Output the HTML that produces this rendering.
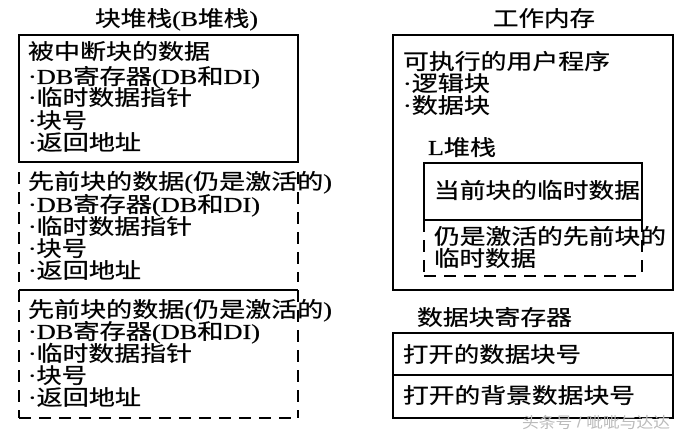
<!DOCTYPE html>
<html><head><meta charset="utf-8"><style>
html,body{margin:0;padding:0;background:#fff;}
svg{display:block;}
text{font-family:"Liberation Serif","Noto Sans CJK SC",serif;font-size:21px;fill:#000;stroke:#000;stroke-width:0.3px;dominant-baseline:central;}
</style></head><body>
<svg width="681" height="438" viewBox="0 0 681 438" xmlns="http://www.w3.org/2000/svg">
<g stroke="#000" stroke-width="2" fill="none">
<rect x="19" y="35" width="279" height="127"/>
<line x1="19" y1="172" x2="19" y2="282" stroke-dasharray="12,8"/>
<line x1="298" y1="172" x2="298" y2="282" stroke-dasharray="12,8"/>
<line x1="19" y1="290" x2="298" y2="290"/>
<line x1="19" y1="290" x2="19" y2="418" stroke-dasharray="12,8"/>
<line x1="298" y1="290" x2="298" y2="418" stroke-dasharray="12,8"/>
<line x1="19" y1="418" x2="298" y2="418" stroke-dasharray="12,8"/>
<rect x="393" y="35" width="280" height="255"/>
<rect x="424" y="163" width="218" height="57"/>
<line x1="424" y1="220" x2="424" y2="276" stroke-dasharray="12,8"/>
<line x1="642" y1="220" x2="642" y2="276" stroke-dasharray="12,8"/>
<line x1="424" y1="276" x2="642" y2="276" stroke-dasharray="12,8"/>
<rect x="393" y="333" width="280" height="85"/>
<line x1="393" y1="375" x2="673" y2="375"/>
</g>
<g>
<text x="95" y="19" textLength="163" lengthAdjust="spacingAndGlyphs">块堆栈(B堆栈)</text>
<text x="28" y="52" textLength="182" lengthAdjust="spacingAndGlyphs">被中断块的数据</text>
<text x="28" y="77" textLength="232" lengthAdjust="spacingAndGlyphs">·DB寄存器(DB和DI)</text>
<text x="28" y="98" textLength="164" lengthAdjust="spacingAndGlyphs">·临时数据指针</text>
<text x="28" y="121" textLength="59" lengthAdjust="spacingAndGlyphs">·块号</text>
<text x="28" y="143" textLength="113" lengthAdjust="spacingAndGlyphs">·返回地址</text>
<text x="28" y="182" textLength="304" lengthAdjust="spacingAndGlyphs">先前块的数据(仍是激活的)</text>
<text x="28" y="205" textLength="232" lengthAdjust="spacingAndGlyphs">·DB寄存器(DB和DI)</text>
<text x="28" y="227" textLength="164" lengthAdjust="spacingAndGlyphs">·临时数据指针</text>
<text x="28" y="249" textLength="59" lengthAdjust="spacingAndGlyphs">·块号</text>
<text x="28" y="271" textLength="113" lengthAdjust="spacingAndGlyphs">·返回地址</text>
<text x="28" y="310" textLength="304" lengthAdjust="spacingAndGlyphs">先前块的数据(仍是激活的)</text>
<text x="28" y="332" textLength="232" lengthAdjust="spacingAndGlyphs">·DB寄存器(DB和DI)</text>
<text x="28" y="354" textLength="164" lengthAdjust="spacingAndGlyphs">·临时数据指针</text>
<text x="28" y="376" textLength="59" lengthAdjust="spacingAndGlyphs">·块号</text>
<text x="28" y="398" textLength="113" lengthAdjust="spacingAndGlyphs">·返回地址</text>
<text x="493" y="19" textLength="102" lengthAdjust="spacingAndGlyphs">工作内存</text>
<text x="403" y="62" textLength="207" lengthAdjust="spacingAndGlyphs">可执行的用户程序</text>
<text x="403" y="84" textLength="87" lengthAdjust="spacingAndGlyphs">·逻辑块</text>
<text x="403" y="106" textLength="87" lengthAdjust="spacingAndGlyphs">·数据块</text>
<text x="428" y="148" textLength="68" lengthAdjust="spacingAndGlyphs">L堆栈</text>
<text x="434" y="191" textLength="206" lengthAdjust="spacingAndGlyphs">当前块的临时数据</text>
<text x="434" y="237" textLength="232" lengthAdjust="spacingAndGlyphs">仍是激活的先前块的</text>
<text x="434" y="259" textLength="102" lengthAdjust="spacingAndGlyphs">临时数据</text>
<text x="417" y="318" textLength="155" lengthAdjust="spacingAndGlyphs">数据块寄存器</text>
<text x="403" y="355" textLength="178" lengthAdjust="spacingAndGlyphs">打开的数据块号</text>
<text x="403" y="396" textLength="232" lengthAdjust="spacingAndGlyphs">打开的背景数据块号</text>
<text x="522" y="423" textLength="148" lengthAdjust="spacingAndGlyphs" style="fill:#bbb;stroke:none;font-size:15px;font-family:'Liberation Sans','Noto Sans CJK SC',sans-serif">头条号 / 呲呲与达达</text>
</g>
</svg>
</body></html>
